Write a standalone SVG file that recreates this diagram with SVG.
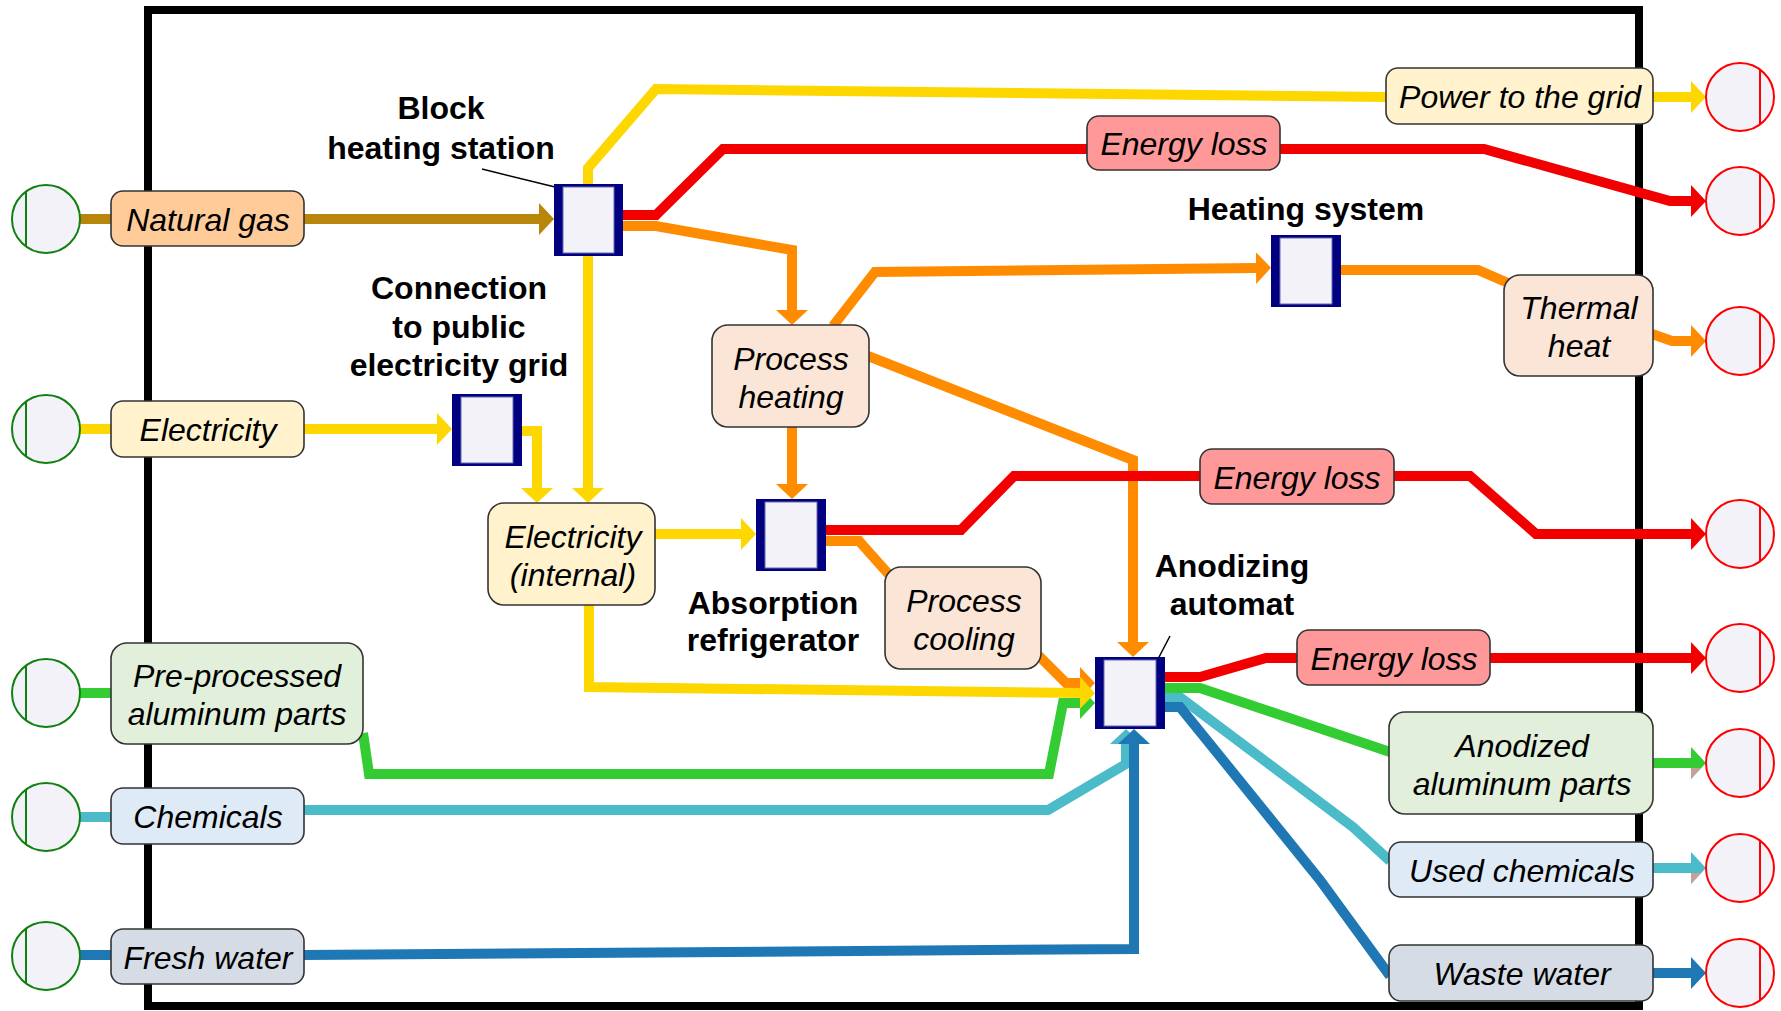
<svg xmlns="http://www.w3.org/2000/svg" width="1781" height="1011" viewBox="0 0 1781 1011">
  <style>
    .frame { fill: none; stroke: #000; stroke-width: 8; }
    .flow { fill: none; stroke-width: 10; stroke-linejoin: miter; stroke-miterlimit: 10; }
    .gas { stroke: #b8860b; }
    .yel { stroke: #ffd700; }
    .red { stroke: #f20000; }
    .org { stroke: #ff8c00; }
    .grn { stroke: #33cc33; }
    .cyn { stroke: #4bbbca; }
    .blu { stroke: #1f78b4; }
    .lbl { stroke: #333; stroke-width: 1.6; }
    .t { font-family: "Liberation Sans", Arial, sans-serif; font-size: 32px; font-style: italic; text-anchor: middle; fill: #000; }
    .h { font-family: "Liberation Sans", Arial, sans-serif; font-size: 32px; font-weight: bold; text-anchor: middle; fill: #000; }
    .pb-o { fill: #000080; }
    .pb-i { fill: #f2f2f8; stroke: #6a6ab0; stroke-width: 1; }
    .src { fill: #f2f2f8; stroke: #108010; stroke-width: 2; }
    .snk { fill: #f2f2f8; stroke: #f00; stroke-width: 2; }
    .lead { stroke: #000; stroke-width: 1.5; fill: none; }
  </style>
  <defs>
    <marker id="a-gas" markerUnits="userSpaceOnUse" viewBox="0 0 15 32" markerWidth="15" markerHeight="32" refX="0" refY="16" orient="auto"><path d="M0,0 L15,16 L0,32 Z" fill="#b8860b"/></marker>
    <marker id="a-yel" markerUnits="userSpaceOnUse" viewBox="0 0 15 32" markerWidth="15" markerHeight="32" refX="0" refY="16" orient="auto"><path d="M0,0 L15,16 L0,32 Z" fill="#ffd700"/></marker>
    <marker id="a-red" markerUnits="userSpaceOnUse" viewBox="0 0 15 32" markerWidth="15" markerHeight="32" refX="0" refY="16" orient="auto"><path d="M0,0 L15,16 L0,32 Z" fill="#f20000"/></marker>
    <marker id="a-org" markerUnits="userSpaceOnUse" viewBox="0 0 15 32" markerWidth="15" markerHeight="32" refX="0" refY="16" orient="auto"><path d="M0,0 L15,16 L0,32 Z" fill="#ff8c00"/></marker>
    <marker id="a-grn" markerUnits="userSpaceOnUse" viewBox="0 0 15 32" markerWidth="15" markerHeight="32" refX="0" refY="16" orient="auto"><path d="M0,0 L15,16 L0,32 Z" fill="#33cc33"/></marker>
    <marker id="a-cyn" markerUnits="userSpaceOnUse" viewBox="0 0 15 32" markerWidth="15" markerHeight="32" refX="0" refY="16" orient="auto"><path d="M0,0 L15,16 L0,32 Z" fill="#4bbbca"/></marker>
    <marker id="a-blu" markerUnits="userSpaceOnUse" viewBox="0 0 15 32" markerWidth="15" markerHeight="32" refX="0" refY="16" orient="auto"><path d="M0,0 L15,16 L0,32 Z" fill="#1f78b4"/></marker>
  </defs>

  <rect width="1781" height="1011" fill="#fff"/>

  <!-- system boundary -->
  <rect class="frame" x="148" y="10" width="1491" height="996"/>

  <g id="connectors">
    <!-- inputs from sources -->
    <path class="flow gas" d="M79,219 H112"/>
    <path class="flow yel" d="M79,429 H112"/>
    <path class="flow grn" d="M79,693 H112"/>
    <path class="flow cyn" d="M79,817 H112"/>
    <path class="flow blu" d="M79,955 H112"/>

    <path class="flow gas" d="M304,219 H539" marker-end="url(#a-gas)"/>
    <path class="flow yel" d="M303,429 H437" marker-end="url(#a-yel)"/>
    <path class="flow yel" d="M521,431 H537 V488" marker-end="url(#a-yel)"/>
    <path class="flow yel" d="M588,256 V488" marker-end="url(#a-yel)"/>
    <path class="flow yel" d="M588,186 V168 L656,89 L1386,97"/>
    <path class="flow yel" d="M1653,97 H1691" marker-end="url(#a-yel)"/>

    <path class="flow red" d="M622,215 H656 L723,149 H1087"/>
    <path class="flow red" d="M1280,149 H1484 L1670,201 H1691" marker-end="url(#a-red)"/>

    <path class="flow org" d="M622,226 H656 L792,250 V310" marker-end="url(#a-org)"/>
    <path class="flow org" d="M833,326 L875,272 L1256,268" marker-end="url(#a-org)"/>
    <path class="flow org" d="M1341,270 H1478 L1508,283"/>
    <path class="flow org" d="M1652,334 L1672,341 H1691" marker-end="url(#a-org)"/>
    <path class="flow org" d="M792,426 V484" marker-end="url(#a-org)"/>
    <path class="flow org" d="M868,356 L1133,460 V642" marker-end="url(#a-org)"/>

    <path class="flow yel" d="M655,534 H741" marker-end="url(#a-yel)"/>

    <path class="flow red" d="M826,530 H961 L1014,476 H1200"/>
    <path class="flow red" d="M1394,476 H1470 L1536,534 H1691" marker-end="url(#a-red)"/>
    <path class="flow org" d="M826,541 H859 L892,578"/>

    <!-- inflows to the anodizing automat -->
    <path class="flow org" d="M1038,655 L1066,683 H1080" marker-end="url(#a-org)"/>
    <path class="flow grn" d="M363,733 L369,774 H1049 L1063,703 H1080" marker-end="url(#a-grn)"/>
    <path class="flow yel" d="M589,605 V687 L1080,693" marker-end="url(#a-yel)"/>
    <path class="flow cyn" d="M304,810 H1048 L1126,764 V744" marker-end="url(#a-cyn)"/>
    <path class="flow blu" d="M304,955 L1134,949 V744" marker-end="url(#a-blu)"/>

    <!-- outflows from the anodizing automat -->
    <path class="flow red" d="M1164,677 H1200 L1266,658 H1297"/>
    <path class="flow red" d="M1490,658 H1691" marker-end="url(#a-red)"/>
    <path class="flow grn" d="M1164,688 H1200 L1390,752"/>
    <path class="flow grn" d="M1653,763 H1691" marker-end="url(#a-grn)"/>
    <polygon points="1691,768 1701,768 1691,779" fill="#c4a0a0"/>
    <path class="flow cyn" d="M1164,698 H1181 L1353,827 L1390,861"/>
    <path class="flow cyn" d="M1653,868 H1691" marker-end="url(#a-cyn)"/>
    <polygon points="1691,873 1701,873 1691,884" fill="#c4a0a0"/>
    <path class="flow blu" d="M1164,707 H1180 L1320,880 L1390,976"/>
    <path class="flow blu" d="M1653,973 H1691" marker-end="url(#a-blu)"/>

    <!-- leader lines -->
    <path class="lead" d="M482,169 L555,187"/>
    <path class="lead" d="M1158,659 L1170,636"/>
  </g>

  <!-- sources -->
  <g id="src-gas"><circle class="src" cx="46" cy="219" r="34"/><line class="src" x1="26" y1="191" x2="26" y2="247"/></g>
  <g id="src-el"><circle class="src" cx="46" cy="429" r="34"/><line class="src" x1="26" y1="401" x2="26" y2="457"/></g>
  <g id="src-pp"><circle class="src" cx="46" cy="693" r="34"/><line class="src" x1="26" y1="665" x2="26" y2="721"/></g>
  <g id="src-ch"><circle class="src" cx="46" cy="817" r="34"/><line class="src" x1="26" y1="789" x2="26" y2="845"/></g>
  <g id="src-fw"><circle class="src" cx="46" cy="956" r="34"/><line class="src" x1="26" y1="928" x2="26" y2="984"/></g>

  <!-- sinks -->
  <g id="snk-pwr"><circle class="snk" cx="1740" cy="97" r="34"/><line class="snk" x1="1760" y1="69" x2="1760" y2="125"/></g>
  <g id="snk-loss1"><circle class="snk" cx="1740" cy="201" r="34"/><line class="snk" x1="1760" y1="173" x2="1760" y2="229"/></g>
  <g id="snk-th"><circle class="snk" cx="1740" cy="341" r="34"/><line class="snk" x1="1760" y1="313" x2="1760" y2="369"/></g>
  <g id="snk-loss2"><circle class="snk" cx="1740" cy="534" r="34"/><line class="snk" x1="1760" y1="506" x2="1760" y2="562"/></g>
  <g id="snk-loss3"><circle class="snk" cx="1740" cy="658" r="34"/><line class="snk" x1="1760" y1="630" x2="1760" y2="686"/></g>
  <g id="snk-anod"><circle class="snk" cx="1740" cy="763" r="34"/><line class="snk" x1="1760" y1="735" x2="1760" y2="791"/></g>
  <g id="snk-uc"><circle class="snk" cx="1740" cy="868" r="34"/><line class="snk" x1="1760" y1="840" x2="1760" y2="896"/></g>
  <g id="snk-ww"><circle class="snk" cx="1740" cy="973" r="34"/><line class="snk" x1="1760" y1="945" x2="1760" y2="1001"/></g>

  <!-- flow labels -->
  <g id="lbl-gas"><rect class="lbl" x="111" y="191" width="193" height="55" rx="12" fill="#ffcc99"/><text class="t" x="208" y="231">Natural gas</text></g>
  <g id="lbl-el"><rect class="lbl" x="111" y="401" width="193" height="56" rx="12" fill="#fff2cc"/><text class="t" x="208" y="441">Electricity</text></g>
  <g id="lbl-pp"><rect class="lbl" x="111" y="643" width="252" height="101" rx="16" fill="#e2efda"/><text class="t" x="237" y="687">Pre-processed</text><text class="t" x="237" y="725">aluminum parts</text></g>
  <g id="lbl-ch"><rect class="lbl" x="111" y="788" width="193" height="56" rx="12" fill="#deebf7"/><text class="t" x="208" y="828">Chemicals</text></g>
  <g id="lbl-fw"><rect class="lbl" x="111" y="929" width="193" height="55" rx="12" fill="#d6dce5"/><text class="t" x="208" y="969">Fresh water</text></g>
  <g id="lbl-pwr"><rect class="lbl" x="1386" y="68" width="267" height="56" rx="12" fill="#fff2cc"/><text class="t" x="1520" y="108">Power to the grid</text></g>
  <g id="lbl-loss1"><rect class="lbl" x="1087" y="116" width="193" height="54" rx="12" fill="#ff9999"/><text class="t" x="1184" y="155">Energy loss</text></g>
  <g id="lbl-th"><rect class="lbl" x="1504" y="275" width="149" height="101" rx="16" fill="#fbe5d6"/><text class="t" x="1579" y="319">Thermal</text><text class="t" x="1579" y="357">heat</text></g>
  <g id="lbl-ph"><rect class="lbl" x="712" y="325" width="157" height="102" rx="16" fill="#fbe5d6"/><text class="t" x="791" y="370">Process</text><text class="t" x="791" y="408">heating</text></g>
  <g id="lbl-ei"><rect class="lbl" x="488" y="503" width="167" height="102" rx="16" fill="#fff2cc"/><text class="t" x="573" y="548">Electricity</text><text class="t" x="573" y="586">(internal)</text></g>
  <g id="lbl-loss2"><rect class="lbl" x="1200" y="449" width="194" height="55" rx="12" fill="#ff9999"/><text class="t" x="1297" y="489">Energy loss</text></g>
  <g id="lbl-pc"><rect class="lbl" x="885" y="567" width="156" height="102" rx="16" fill="#fbe5d6"/><text class="t" x="964" y="612">Process</text><text class="t" x="964" y="650">cooling</text></g>
  <g id="lbl-loss3"><rect class="lbl" x="1297" y="630" width="193" height="55" rx="12" fill="#ff9999"/><text class="t" x="1394" y="670">Energy loss</text></g>
  <g id="lbl-anod"><rect class="lbl" x="1389" y="712" width="264" height="102" rx="16" fill="#e2efda"/><text class="t" x="1522" y="757">Anodized</text><text class="t" x="1522" y="795">aluminum parts</text></g>
  <g id="lbl-uc"><rect class="lbl" x="1389" y="842" width="264" height="55" rx="12" fill="#deebf7"/><text class="t" x="1522" y="882">Used chemicals</text></g>
  <g id="lbl-ww"><rect class="lbl" x="1389" y="945" width="264" height="56" rx="12" fill="#d6dce5"/><text class="t" x="1522" y="985">Waste water</text></g>

  <!-- process units -->
  <g id="bhs"><rect class="pb-o" x="554" y="184" width="69" height="72"/><rect class="pb-i" x="563" y="187" width="51" height="66"/>
    <text class="h" x="441" y="119">Block</text><text class="h" x="441" y="159">heating station</text></g>
  <g id="grid"><rect class="pb-o" x="452" y="394" width="70" height="72"/><rect class="pb-i" x="461" y="397" width="52" height="66"/>
    <text class="h" x="459" y="299">Connection</text><text class="h" x="459" y="338">to public</text><text class="h" x="459" y="376">electricity grid</text></g>
  <g id="heat-sys"><rect class="pb-o" x="1271" y="235" width="70" height="72"/><rect class="pb-i" x="1280" y="238" width="52" height="66"/>
    <text class="h" x="1306" y="220">Heating system</text></g>
  <g id="abs-ref"><rect class="pb-o" x="756" y="499" width="70" height="72"/><rect class="pb-i" x="765" y="502" width="52" height="66"/>
    <text class="h" x="773" y="614">Absorption</text><text class="h" x="773" y="651">refrigerator</text></g>
  <g id="anod-auto"><rect class="pb-o" x="1095" y="657" width="70" height="72"/><rect class="pb-i" x="1104" y="660" width="52" height="66"/>
    <text class="h" x="1232" y="577">Anodizing</text><text class="h" x="1232" y="615">automat</text></g>
</svg>
